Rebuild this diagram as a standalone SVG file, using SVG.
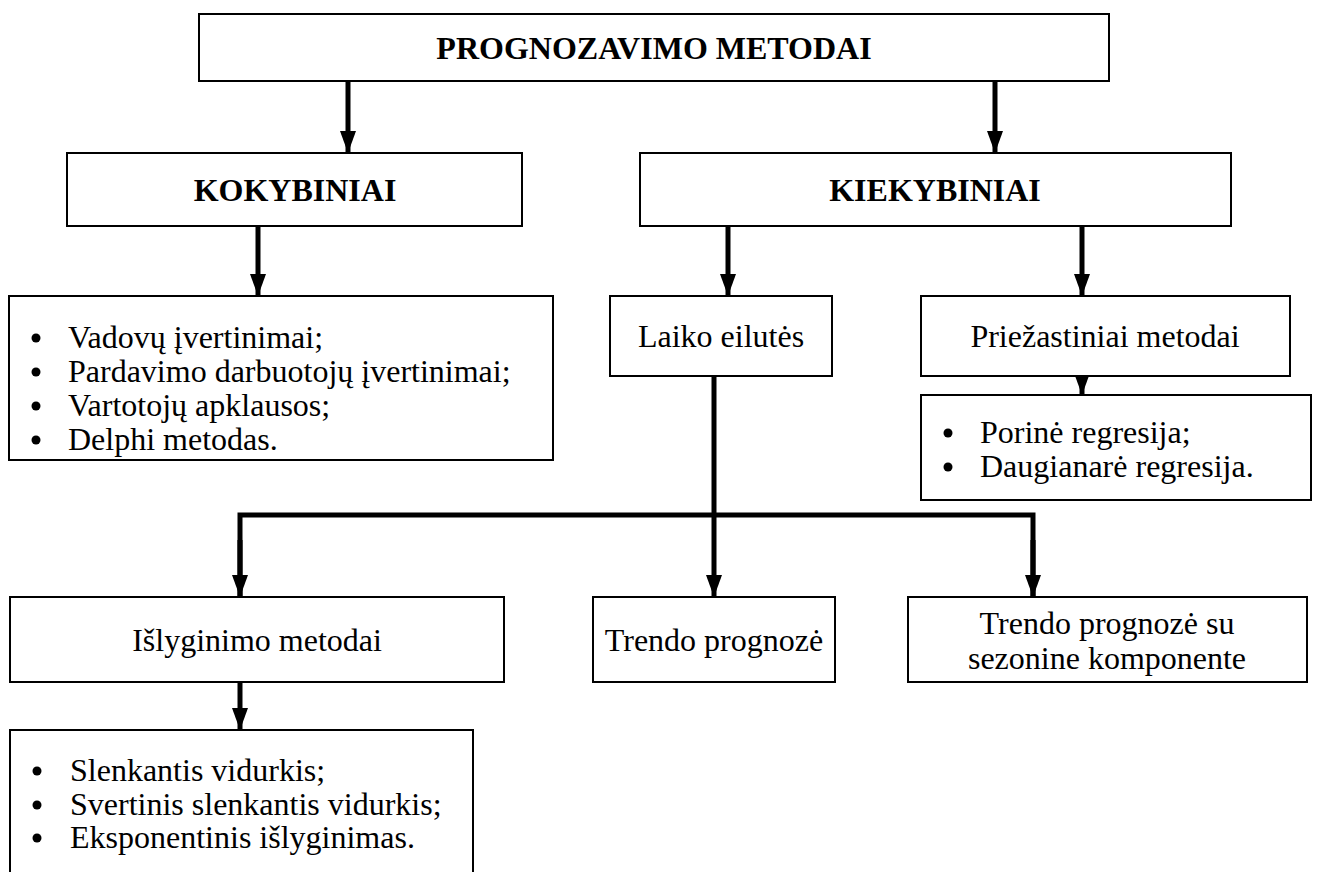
<svg xmlns="http://www.w3.org/2000/svg" width="1320" height="872" viewBox="0 0 1320 872">
  <style>
    .box { fill: #ffffff; stroke: #000000; stroke-width: 2; }
    .t { font-family: "Liberation Serif", "Times New Roman", serif; font-size: 32px; fill: #000000; }
    .c { text-anchor: middle; }
    .b { font-weight: bold; font-size: 32px; }
    .wire { stroke: #000000; stroke-width: 5; fill: none; }
    .dot { fill: #000000; }
  </style>
  <defs>
    <marker id="head" markerUnits="userSpaceOnUse" markerWidth="24" markerHeight="18" refX="22" refY="8" orient="auto">
      <path d="M0,0 L22,8 L0,16 Z" fill="#000000"/>
    </marker>
  </defs>

  <rect width="1320" height="872" fill="#ffffff"/>

  <!-- connectors -->
  <g id="connectors">
    <line class="wire" x1="348" y1="81" x2="348" y2="153" marker-end="url(#head)"/>
    <line class="wire" x1="995" y1="81" x2="995" y2="153" marker-end="url(#head)"/>
    <line class="wire" x1="258" y1="226" x2="258" y2="296" marker-end="url(#head)"/>
    <line class="wire" x1="728" y1="226" x2="728" y2="296" marker-end="url(#head)"/>
    <line class="wire" x1="1082" y1="226" x2="1082" y2="296" marker-end="url(#head)"/>
    <line class="wire" x1="1082" y1="376" x2="1082" y2="395" marker-end="url(#head)"/>
    <line class="wire" x1="714" y1="376" x2="714" y2="597" marker-end="url(#head)"/>
    <polyline class="wire" points="240,597 240,515 1033,515 1033,597" stroke-width="6"/>
    <line class="wire" x1="240" y1="540" x2="240" y2="597" marker-end="url(#head)"/>
    <line class="wire" x1="1033" y1="540" x2="1033" y2="597" marker-end="url(#head)"/>
    <line class="wire" x1="240" y1="682" x2="240" y2="730" marker-end="url(#head)"/>
  </g>

  <g id="root">
    <rect class="box" x="199" y="14" width="910" height="67"/>
    <text class="t b c" x="654" y="59">PROGNOZAVIMO METODAI</text>
  </g>

  <g id="kokybiniai">
    <rect class="box" x="67" y="153" width="455" height="73"/>
    <text class="t b c" x="295" y="201">KOKYBINIAI</text>
  </g>

  <g id="kiekybiniai">
    <rect class="box" x="640" y="153" width="591" height="73"/>
    <text class="t b c" x="935" y="201">KIEKYBINIAI</text>
  </g>

  <g id="kokybiniai-list">
    <rect class="box" x="9" y="296" width="544" height="164"/>
    <circle class="dot" cx="36" cy="338" r="4.5"/>
    <circle class="dot" cx="36" cy="372" r="4.5"/>
    <circle class="dot" cx="36" cy="406" r="4.5"/>
    <circle class="dot" cx="36" cy="440" r="4.5"/>
    <text class="t" x="68" y="348">Vadovų įvertinimai;</text>
    <text class="t" x="68" y="382">Pardavimo darbuotojų įvertinimai;</text>
    <text class="t" x="68" y="416">Vartotojų apklausos;</text>
    <text class="t" x="68" y="450">Delphi metodas.</text>
  </g>

  <g id="laiko-eilutes">
    <rect class="box" x="610" y="296" width="222" height="80"/>
    <text class="t c" x="721" y="347">Laiko eilutės</text>
  </g>

  <g id="priezastiniai">
    <rect class="box" x="921" y="296" width="369" height="80"/>
    <text class="t c" x="1105" y="347">Priežastiniai metodai</text>
  </g>

  <g id="regresija-list">
    <rect class="box" x="921" y="395" width="390" height="105"/>
    <circle class="dot" cx="948" cy="433" r="4.5"/>
    <circle class="dot" cx="948" cy="467" r="4.5"/>
    <text class="t" x="980" y="443">Porinė regresija;</text>
    <text class="t" x="980" y="477">Daugianarė regresija.</text>
  </g>

  <g id="islyginimo">
    <rect class="box" x="10" y="597" width="494" height="85"/>
    <text class="t c" x="257" y="651">Išlyginimo metodai</text>
  </g>

  <g id="trendo">
    <rect class="box" x="593" y="597" width="242" height="85"/>
    <text class="t c" x="714" y="651">Trendo prognozė</text>
  </g>

  <g id="trendo-sezonine">
    <rect class="box" x="908" y="597" width="399" height="85"/>
    <text class="t c" x="1107" y="634">Trendo prognozė su</text>
    <text class="t c" x="1107" y="669">sezonine komponente</text>
  </g>

  <g id="islyginimo-list">
    <rect class="box" x="10" y="730" width="463" height="150"/>
    <circle class="dot" cx="37" cy="771" r="4.5"/>
    <circle class="dot" cx="37" cy="805" r="4.5"/>
    <circle class="dot" cx="37" cy="838" r="4.5"/>
    <text class="t" x="70" y="781">Slenkantis vidurkis;</text>
    <text class="t" x="70" y="815">Svertinis slenkantis vidurkis;</text>
    <text class="t" x="70" y="848">Eksponentinis išlyginimas.</text>
  </g>
</svg>
